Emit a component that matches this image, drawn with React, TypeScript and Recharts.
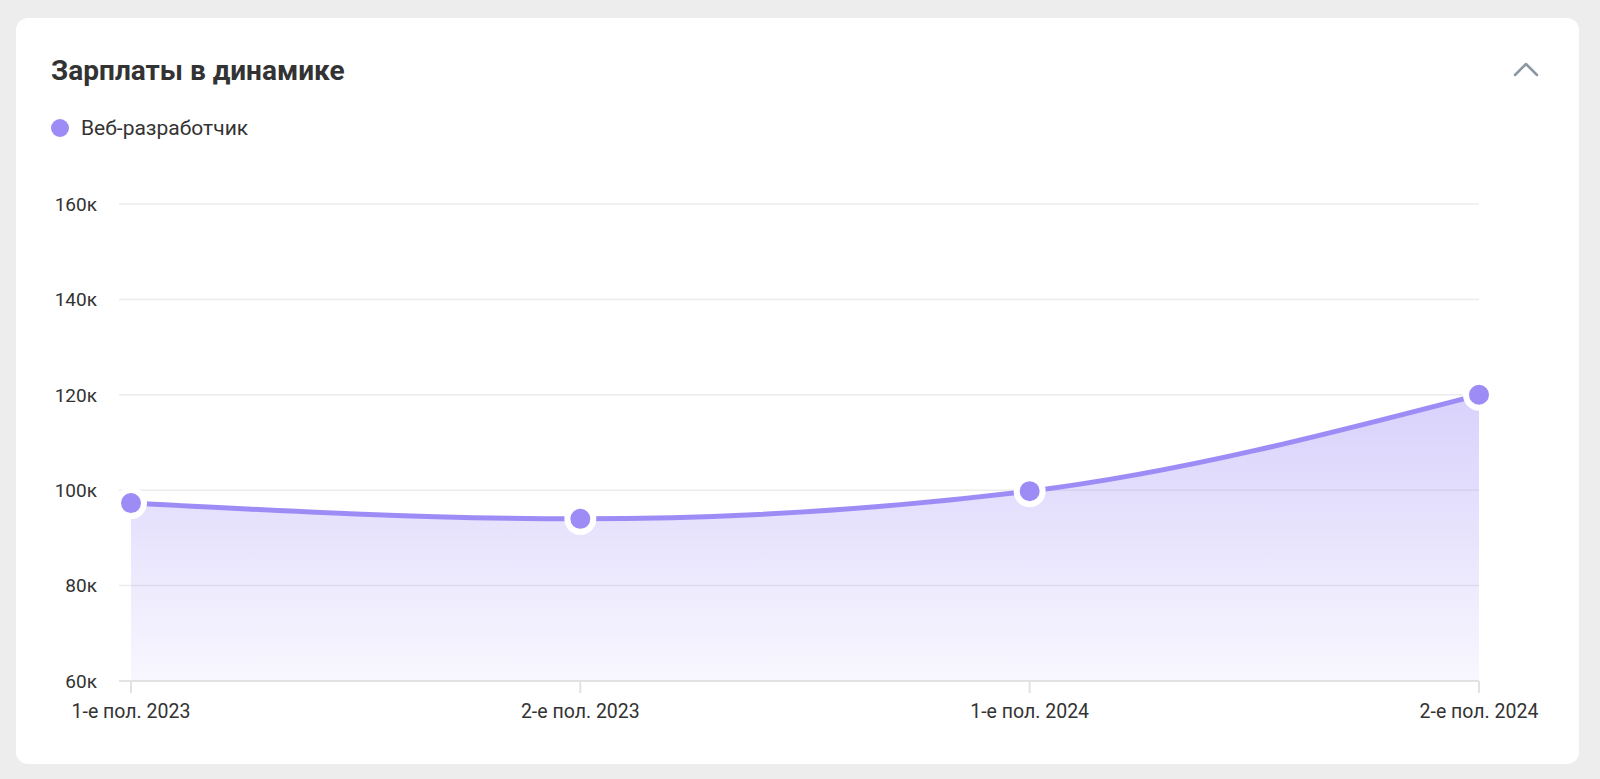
import React from 'react';
import {
  AreaChart, Area, XAxis, YAxis, CartesianGrid, Legend,
} from 'recharts';

const periods = ['1-е пол. 2023', '2-е пол. 2023', '1-е пол. 2024', '2-е пол. 2024'];
const salaries = [97300, 94000, 99800, 120000];
const yTicks = [60000, 80000, 100000, 120000, 140000, 160000];
const seriesName = 'Веб-разработчик';

const PURPLE = '#9e8cf6';
const FONT = 'Roboto, "Noto Sans", sans-serif';
const LEGEND_H = 24;

const chartData = periods.map((p, i) => ({ period: p, [seriesName]: salaries[i] }));

function LegendContent({ payload }: any) {
  return (
    <div style={{ display: 'flex', alignItems: 'center', height: LEGEND_H }}>
      {(payload || []).map((entry: any) => (
        <div key={entry.value} style={{ display: 'flex', alignItems: 'center' }}>
          <span
            style={{
              width: 18, height: 18, borderRadius: '50%', background: PURPLE,
              display: 'inline-block', marginRight: 12,
            }}
          />
          <span style={{ fontSize: 21, color: '#333', fontFamily: FONT, lineHeight: '24px' }}>{entry.value}</span>
        </div>
      ))}
    </div>
  );
}

export default function App() {
  return (
    <div style={{ position: 'fixed', left: 0, top: 0, width: 1600, height: 779, background: '#ededed', fontFamily: FONT }}>
      <div
        style={{
          position: 'absolute', left: 16, top: 18, width: 1563, height: 746,
          background: '#fff', borderRadius: 12,
        }}
      />
      <div
        style={{
          position: 'absolute', left: 51, top: 53, fontSize: 28, fontWeight: 700,
          color: '#333', lineHeight: '36px', whiteSpace: 'nowrap',
        }}
      >
        Зарплаты в динамике
      </div>
      <svg style={{ position: 'absolute', left: 1512, top: 60 }} width="28" height="20">
        <polyline points="3,15 14,4 25,15" fill="none" stroke="#8c97a3" strokeWidth="2.5" strokeLinecap="round" strokeLinejoin="round" />
      </svg>
      <div style={{ position: 'absolute', left: 0, top: 0 }}>
        <AreaChart
          width={1600}
          height={779}
          data={chartData}
          margin={{ top: 204 - LEGEND_H, right: 121, bottom: 38, left: 0 }}
        >
          <defs>
            <linearGradient id="salaryFill" x1="0" y1="0" x2="0" y2="1">
              <stop offset="0%" stopColor={PURPLE} stopOpacity={0.4} />
              <stop offset="100%" stopColor={PURPLE} stopOpacity={0.07} />
            </linearGradient>
          </defs>
          <CartesianGrid vertical={false} stroke="#ececec" strokeWidth={1.5} />
          <XAxis
            dataKey="period"
            padding={{ left: 12, right: 0 }}
            height={60}
            tickSize={12}
            tickMargin={11}
            axisLine={{ stroke: '#dedede', strokeWidth: 1.5 }}
            tickLine={{ stroke: '#e2e2e2', strokeWidth: 2 }}
            tick={{ fontSize: 19.5, fill: '#333', fontFamily: FONT }}
            interval={0}
          />
          <YAxis
            domain={[60000, 160000]}
            ticks={yTicks}
            width={119}
            axisLine={false}
            tickLine={false}
            tickSize={6}
            tickMargin={16}
            tick={{ fontSize: 19, fill: '#333', fontFamily: FONT }}
            tickFormatter={(v: number) => `${v / 1000}к`}
          />
          <Legend
            verticalAlign="top"
            content={<LegendContent />}
            wrapperStyle={{ position: 'absolute', left: 51, top: 116, width: 'auto', height: LEGEND_H }}
          />
          <Area
            type="monotone"
            dataKey={seriesName}
            stroke={PURPLE}
            strokeWidth={5}
            fill="url(#salaryFill)"
            fillOpacity={1}
            dot={{ r: 13, fill: PURPLE, stroke: '#fff', strokeWidth: 6, fillOpacity: 1 }}
            activeDot={false}
            isAnimationActive={false}
          />
        </AreaChart>
      </div>
    </div>
  );
}
